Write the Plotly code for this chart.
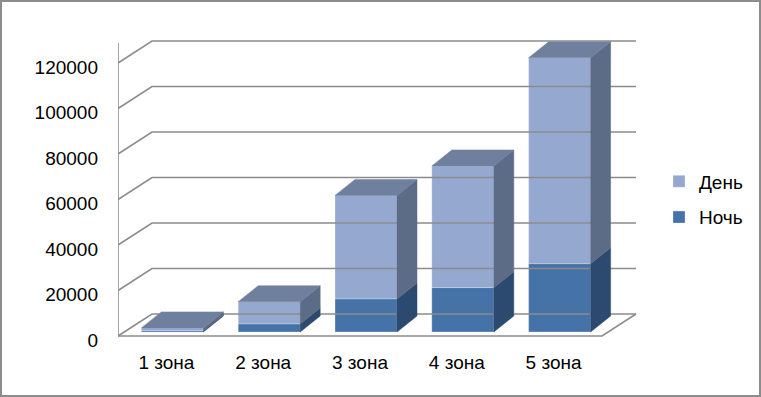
import plotly.graph_objects as go

# ---- data ----
categories = ["1 зона", "2 зона", "3 зона", "4 зона", "5 зона"]
night = [600, 3500, 14500, 19500, 30000]      # Ночь
day = [1200, 9800, 45500, 53500, 90500]       # День
tick_vals = [0, 20000, 40000, 60000, 80000, 100000, 120000]

# ---- styling / pseudo-3D geometry (pixel based) ----
W, H = 761, 397
L, R, T, B = 118, 116, 20, 52
plot_w = W - L - R
plot_h = H - T - B
CAT_PX = 96.8
PXX = 1.0 / CAT_PX                 # x units per px
PXY = 120000 / 273.0               # y units per px
ZERO_PX = 336                      # pixel row of y=0 on front plane
FDX, FDY = 34 * PXX, 22 * PXY      # floor/wall depth
BOX, BOY = 6 * PXX, 4 * PXY        # bar front plane offset
BDX, BDY = 20 * PXX, 16 * PXY      # bar depth
BW = 62 * PXX                      # bar width

C_NIGHT, C_NIGHT_SIDE = "#4572A7", "#2C4A6F"
C_DAY, C_DAY_SIDE = "#95A9D0", "#5C6B86"
C_TOP = "#6F809E"
GRID = "#8C8C8C"
FONT = "Liberation Sans"
FS = 19

n = len(categories)
cat_pos = [i + 0.5 for i in range(n)]
centers = [c + BOX for c in cat_pos]

fig = go.Figure()

# walls, gridlines and floor
gx, gy = [], []
for v in tick_vals:
    gx += [0, FDX, n + FDX, None]
    gy += [v, v + FDY, v + FDY, None]
gx += [0, n, n + FDX, None, 0, 0]
gy += [0, 0, FDY, None, 0, (ZERO_PX - 43) * PXY]
fig.add_trace(go.Scatter(x=gx, y=gy, mode="lines", line=dict(color=GRID, width=1.6),
                         hoverinfo="skip", showlegend=False))

# side faces and top faces
def poly(xs, ys, color):
    fig.add_trace(go.Scatter(x=xs + [xs[0]], y=ys + [ys[0]], mode="lines", fill="toself",
                             fillcolor=color, line=dict(color=color, width=0.5),
                             hoverinfo="skip", showlegend=False))

for i in range(n):
    xl = centers[i] - BW / 2
    xr = centers[i] + BW / 2
    y0 = BOY
    y1 = BOY + night[i]
    y2 = y1 + day[i]
    poly([xr, xr + BDX, xr + BDX, xr], [y0, y0 + BDY, y1 + BDY, y1], C_NIGHT_SIDE)
    poly([xr, xr + BDX, xr + BDX, xr], [y1, y1 + BDY, y2 + BDY, y2], C_DAY_SIDE)
    poly([xl, xr, xr + BDX, xl + BDX], [y2, y2, y2 + BDY, y2 + BDY], C_TOP)

# front faces (День listed first so it heads the legend)
fig.add_trace(go.Bar(x=centers, y=day, base=[BOY + v for v in night], width=BW, name="День",
                     marker=dict(color=C_DAY, line=dict(color="rgba(255,255,255,0.35)", width=0.8)),
                     legendgroup="d"))
fig.add_trace(go.Bar(x=centers, y=night, base=[BOY] * n, width=BW, name="Ночь",
                     marker=dict(color=C_NIGHT, line=dict(color="rgba(255,255,255,0.35)", width=0.8)),
                     legendgroup="n"))

def px_x(px):
    return (px - L) / plot_w

def px_y(py):
    return (H - B - py) / plot_h

fig.update_layout(
    width=W, height=H,
    margin=dict(l=L, r=R, t=T, b=B, autoexpand=False),
    paper_bgcolor="white", plot_bgcolor="white",
    barmode="overlay",
    font=dict(family=FONT, size=FS, color="#000000"),
    xaxis=dict(range=[0, plot_w * PXX], showgrid=False, zeroline=False, showline=False,
               tickvals=cat_pos, ticktext=categories, ticks="", tickfont=dict(size=FS),
               ticklabelstandoff=4),
    yaxis=dict(range=[-(H - B - ZERO_PX) * PXY, (ZERO_PX - T) * PXY], showgrid=False,
               zeroline=False, showline=False, tickvals=tick_vals,
               ticktext=[str(v) for v in tick_vals], ticks="", ticklabelstandoff=19,
               ticklabelshift=4, tickfont=dict(size=FS)),
    legend=dict(x=px_x(659), y=px_y(162.5), xanchor="left", yanchor="top",
                traceorder="grouped", tracegroupgap=8,
                font=dict(size=FS), bgcolor="rgba(0,0,0,0)"),
    shapes=[dict(type="rect", xref="paper", yref="paper",
                 x0=px_x(1), x1=px_x(760), y0=px_y(396), y1=px_y(1),
                 line=dict(color="#8C8C8C", width=2))],
    showlegend=True,
)

fig.write_html("out.html", config={"displayModeBar": False},
               post_script="document.body.style.margin='0';document.body.style.padding='0';")
